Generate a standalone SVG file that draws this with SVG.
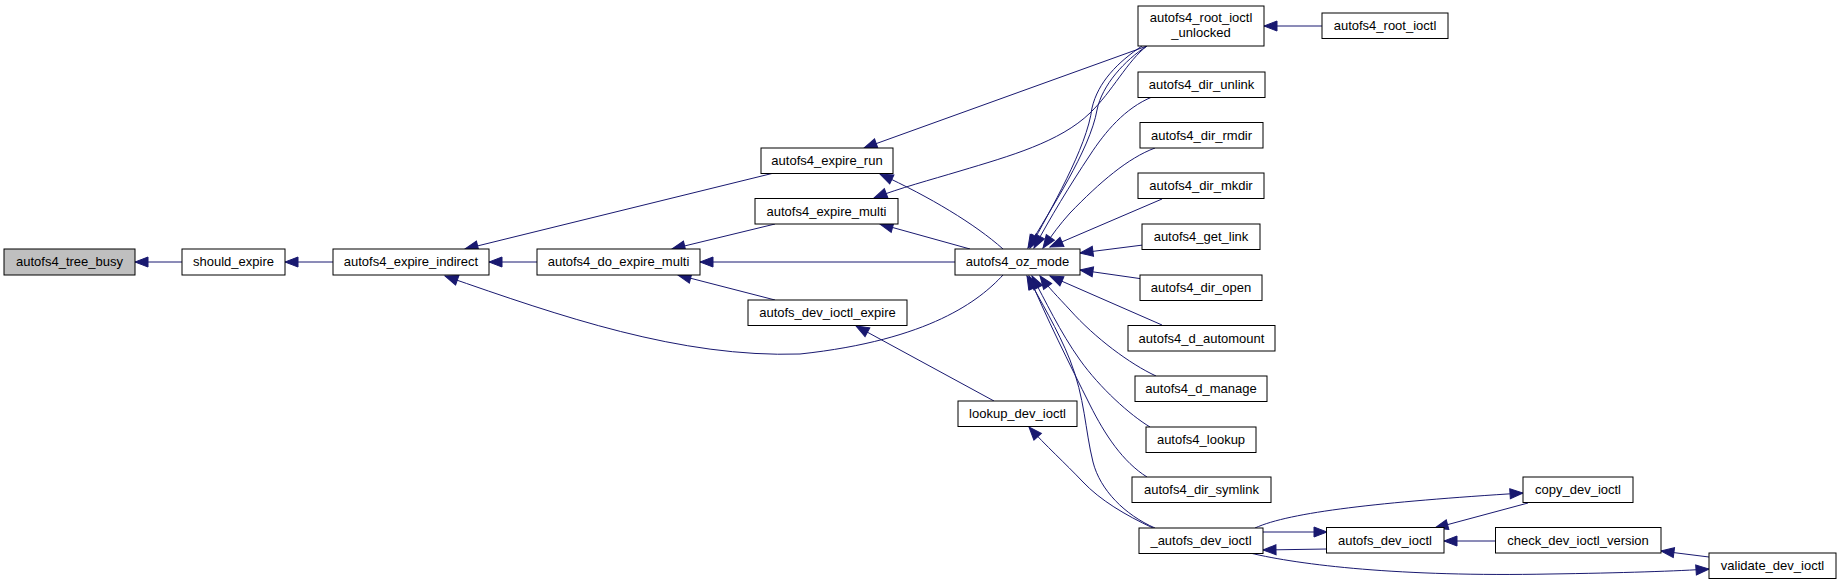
<svg xmlns="http://www.w3.org/2000/svg" width="1841" height="585" viewBox="0 0 1841 585">
<style>
.n rect{fill:#ffffff;stroke:#000000;stroke-width:1}
.n.hl rect{fill:#bfbfbf}
.n text{font-family:"Liberation Sans",Arial,Helvetica,sans-serif;font-size:13px;fill:#000000;text-anchor:middle}
.e path{fill:none;stroke:#191970;stroke-width:1;marker-end:url(#ah)}
</style>
<defs>
<marker id="ah" markerUnits="userSpaceOnUse" markerWidth="16" markerHeight="12" refX="13" refY="5" orient="auto" overflow="visible">
<path d="M0,0 L13,5 L0,10 Z" fill="#191970" stroke="#191970" stroke-width="1"/>
</marker>
</defs>
<rect x="0" y="0" width="1841" height="585" fill="#ffffff"/>
<g id="edges" class="e">
<path d="M182,262 L135,262"/>
<path d="M333,262 L285,262"/>
<path d="M537,262 L489,262"/>
<path d="M774,173 L465,249"/>
<path d="M1003,275 C980,300 930,340 800,354 C680,358 560,316 445,276"/>
<path d="M775,224 L672,249"/>
<path d="M955,262 L700,262"/>
<path d="M775,300 L678,275"/>
<path d="M1147,46 L864,148"/>
<path d="M1003,249 C975,224 930,197 880,174"/>
<path d="M1147,46 C1128,60 1112,92 1090,113 C1060,142 1010,156 960,171 C930,180 900,188 874,198"/>
<path d="M970,249 L880,224"/>
<path d="M994,401 L856,326"/>
<path d="M1153,528 C1125,515 1100,500 1083,482 C1065,463 1045,445 1029,427"/>
<path d="M1322,26 L1264,26"/>
<path d="M1147,46 C1125,60 1102,85 1097,110 C1090,150 1050,210 1028,248"/>
<path d="M1142,46 C1118,62 1098,82 1092,108 C1087,148 1050,210 1030,248"/>
<path d="M1152,97 C1125,108 1105,132 1090,155 C1070,185 1050,218 1034,248"/>
<path d="M1155,148 C1128,158 1100,182 1070,213 C1060,224 1052,235 1043,248"/>
<path d="M1162,199 L1050,247"/>
<path d="M1143,245 L1080,253"/>
<path d="M1143,279 L1080,270"/>
<path d="M1162,325 L1050,276"/>
<path d="M1156,376 C1130,364 1095,338 1070,310 C1058,297 1048,287 1040,276"/>
<path d="M1150,427 C1130,415 1100,388 1080,360 C1060,332 1045,300 1032,276"/>
<path d="M1147,477 C1123,462 1105,435 1090,405 C1070,365 1045,315 1029,276"/>
<path d="M1155,528 C1125,515 1100,490 1093,462 C1085,430 1085,398 1070,360 C1058,330 1040,300 1027,276"/>
<path d="M1263,532 L1327,532"/>
<path d="M1327,549 L1263,550"/>
<path d="M1255,528 C1290,512 1380,502 1523,493"/>
<path d="M1528,503 L1435,528"/>
<path d="M1496,541 L1444,541"/>
<path d="M1709,557 L1661,551"/>
<path d="M1250,553 C1300,565 1400,577 1550,574 C1620,573 1680,571 1709,569"/>
</g>
<g id="autofs4_tree_busy" class="n hl"><rect x="4" y="249" width="131" height="26"/><text x="69.5" y="266">autofs4_tree_busy</text></g>
<g id="should_expire" class="n"><rect x="182" y="249" width="103" height="26"/><text x="233.5" y="266">should_expire</text></g>
<g id="autofs4_expire_indirect" class="n"><rect x="333" y="249" width="156" height="26"/><text x="411" y="266">autofs4_expire_indirect</text></g>
<g id="autofs4_do_expire_multi" class="n"><rect x="537" y="249" width="163" height="26"/><text x="618.5" y="266">autofs4_do_expire_multi</text></g>
<g id="autofs4_expire_run" class="n"><rect x="761" y="148" width="132" height="25.5"/><text x="827" y="165">autofs4_expire_run</text></g>
<g id="autofs4_expire_multi" class="n"><rect x="755" y="198.5" width="143" height="25.5"/><text x="826.5" y="215.5">autofs4_expire_multi</text></g>
<g id="autofs_dev_ioctl_expire" class="n"><rect x="748" y="300" width="159" height="25.5"/><text x="827.5" y="317">autofs_dev_ioctl_expire</text></g>
<g id="autofs4_oz_mode" class="n"><rect x="955" y="249" width="125" height="26"/><text x="1017.5" y="266">autofs4_oz_mode</text></g>
<g id="lookup_dev_ioctl" class="n"><rect x="958" y="401" width="119" height="25.5"/><text x="1017.5" y="418">lookup_dev_ioctl</text></g>
<g id="autofs4_root_ioctl_unlocked" class="n"><rect x="1138" y="6" width="126" height="40"/><text x="1201" y="21.7">autofs4_root_ioctl</text><text x="1201" y="36.7">_unlocked</text></g>
<g id="autofs4_root_ioctl" class="n"><rect x="1322" y="13" width="126" height="25.5"/><text x="1385" y="30">autofs4_root_ioctl</text></g>
<g id="autofs4_dir_unlink" class="n"><rect x="1138" y="72" width="127" height="25.5"/><text x="1201.5" y="89">autofs4_dir_unlink</text></g>
<g id="autofs4_dir_rmdir" class="n"><rect x="1140" y="122.5" width="123" height="25.5"/><text x="1201.5" y="139.5">autofs4_dir_rmdir</text></g>
<g id="autofs4_dir_mkdir" class="n"><rect x="1138" y="173" width="126" height="25.5"/><text x="1201" y="190">autofs4_dir_mkdir</text></g>
<g id="autofs4_get_link" class="n"><rect x="1142" y="224" width="118" height="25.5"/><text x="1201" y="241">autofs4_get_link</text></g>
<g id="autofs4_dir_open" class="n"><rect x="1140" y="275" width="122" height="25.5"/><text x="1201" y="292">autofs4_dir_open</text></g>
<g id="autofs4_d_automount" class="n"><rect x="1128" y="325.5" width="147" height="25.5"/><text x="1201.5" y="342.5">autofs4_d_automount</text></g>
<g id="autofs4_d_manage" class="n"><rect x="1135" y="376" width="132" height="25.5"/><text x="1201" y="393">autofs4_d_manage</text></g>
<g id="autofs4_lookup" class="n"><rect x="1146" y="427" width="110" height="25.5"/><text x="1201" y="444">autofs4_lookup</text></g>
<g id="autofs4_dir_symlink" class="n"><rect x="1132" y="477" width="139" height="25.5"/><text x="1201.5" y="494">autofs4_dir_symlink</text></g>
<g id="_autofs_dev_ioctl" class="n"><rect x="1139" y="528" width="124" height="25.5"/><text x="1201" y="545">_autofs_dev_ioctl</text></g>
<g id="autofs_dev_ioctl" class="n"><rect x="1326.5" y="527.5" width="117.5" height="25.5"/><text x="1385" y="544.5">autofs_dev_ioctl</text></g>
<g id="copy_dev_ioctl" class="n"><rect x="1523" y="477" width="110" height="25.5"/><text x="1578" y="494">copy_dev_ioctl</text></g>
<g id="check_dev_ioctl_version" class="n"><rect x="1495.5" y="527.5" width="165.5" height="25.5"/><text x="1578" y="544.5">check_dev_ioctl_version</text></g>
<g id="validate_dev_ioctl" class="n"><rect x="1709" y="553" width="127" height="25.5"/><text x="1772.5" y="570">validate_dev_ioctl</text></g>
</svg>
